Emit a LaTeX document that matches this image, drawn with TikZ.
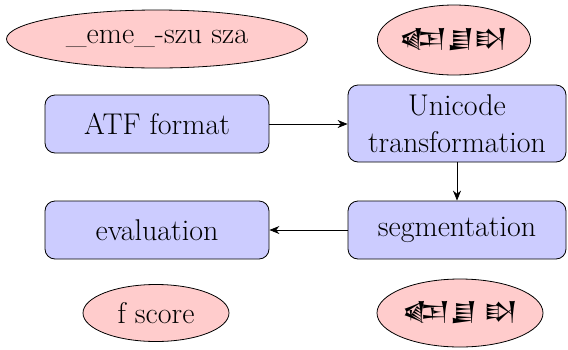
\documentclass[tikz,border=0pt]{standalone}
\usepackage{fontspec}
\usetikzlibrary{shapes.geometric,arrows.meta}
\IfFontExistsTF{Noto Sans Cuneiform}{\newfontfamily\cuneiform{Noto Sans Cuneiform}}{\newcommand\cuneiform{}}
\begin{document}
\begin{tikzpicture}[x=0.5pt,y=-0.5pt,font=\fontsize{15}{18.5}\selectfont]
            \tikzset{
                process node/.style={rectangle,rounded corners=5pt,draw,fill=blue!20,inner sep=0pt,align=center},
                data node/.style={ellipse,draw,fill=red!20,inner sep=0pt},
                flow/.style={-{Stealth[length=5pt,width=4pt]}}
            }
            \useasboundingbox (0,0) rectangle (568,349);
            \node[data node, minimum width=150.5pt, minimum height=29pt] (translit) at (157,39) {\_eme\_-szu sza};
            \node[data node, minimum width=66pt, minimum height=35pt] (signs) at (454,40) {\cuneiform\fontsize{13}{15}\selectfont 𒅴𒋗𒊭};
            \node[process node, minimum width=112pt, minimum height=29pt] (atf) at (157,124) {ATF format};
            \node[process node, minimum width=109pt, minimum height=38.5pt] (unicode) at (457,123.5) {Unicode\\transformation};
            \node[process node, minimum width=109pt, minimum height=29pt] (segment) at (457,230) {segmentation};
            \node[process node, minimum width=112pt, minimum height=29pt] (eval) at (157,230) {evaluation};
            \node[data node, minimum width=73pt, minimum height=28.5pt] (fscore) at (156,313) {f score};
            \node[data node, minimum width=83pt, minimum height=34pt] (segsigns) at (460,313) {\cuneiform\fontsize{13}{15}\selectfont 𒅴𒋗 𒊭};
            \draw[flow] (atf.east) -- (atf.east -| unicode.west);
            \draw[flow] (unicode) -- (segment);
            \draw[flow] (segment) -- (eval);
\end{tikzpicture}
\end{document}
